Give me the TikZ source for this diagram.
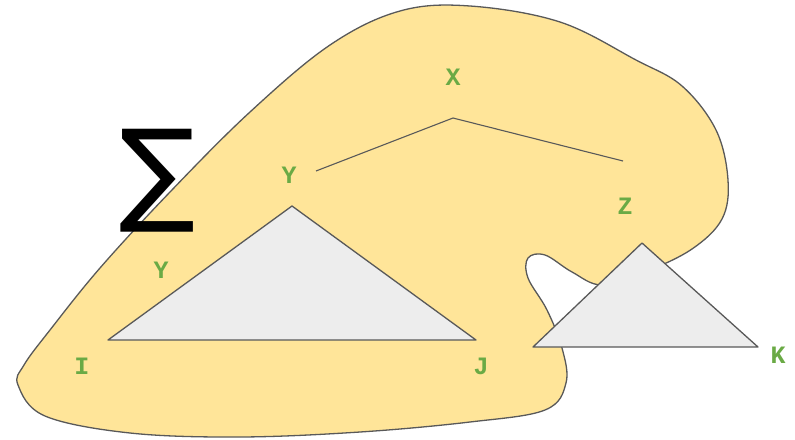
\documentclass[tikz,border=0pt]{standalone}
\usepackage{fontspec}
\setmonofont{Liberation Mono}
\newfontfamily\symfont{DejaVu Sans}
\definecolor{blobfill}{HTML}{FFE599}
\definecolor{edgegray}{HTML}{595959}
\definecolor{trifill}{HTML}{EDEDED}
\definecolor{labgreen}{HTML}{6AAA45}
\begin{document}
\begin{tikzpicture}[x=1pt,y=-1pt,
  lab/.style={text=labgreen,font=\ttfamily\bfseries\fontsize{25}{25}\selectfont,inner sep=0pt},
  edge/.style={draw=edgegray,line width=1.3pt,line join=round}]
\useasboundingbox (0,0) rectangle (795,439);
% blob
\draw[edge,fill=blobfill] plot[smooth cycle,tension=0.6] coordinates {
 (18,385) (45,416) (130,433) (240,437) (360,432) (470,422) (545,410) (566,383)
 (562,348) (547,310) (528,278) (528,258) (545,255) (572,272) (602,285) (645,272)
 (692,249) (722,219) (728,180) (716,130) (682,86) (636,60) (560,22) (470,6)
 (400,11) (330,45) (250,112) (170,192) (100,268) (50,330) (24,365)};
% tree lines
\coordinate (ya) at (316,171);
\coordinate (xa) at (453,118);
\coordinate (za) at (623,161);
\draw[edge,line width=1.1pt] (ya) -- (xa) -- (za);
% triangles
\coordinate (t1a) at (292,206);
\coordinate (t1b) at (108,340);
\coordinate (t1c) at (476,340);
\draw[edge,fill=trifill] (t1a) -- (t1b) -- (t1c) -- cycle;
\coordinate (t2a) at (642,243);
\coordinate (t2b) at (533,347);
\coordinate (t2c) at (758,347);
\draw[edge,fill=trifill] (t2a) -- (t2b) -- (t2c) -- cycle;
% labels
\node[lab] (lx) at (453,77) {X};
\node[lab] (ly) at (289,175) {Y};
\node[lab] (lz) at (625,206) {Z};
\node[lab] (ly2) at (161,270) {Y};
\node[lab] (li) at (82,366) {I};
\node[lab] (lj) at (481,366) {J};
\node[lab] (lk) at (778,355) {K};
\node[inner sep=0pt] (sig) at (158,181) {\symfont\fontsize{113}{113}\selectfont ∑};
\end{tikzpicture}
\end{document}
